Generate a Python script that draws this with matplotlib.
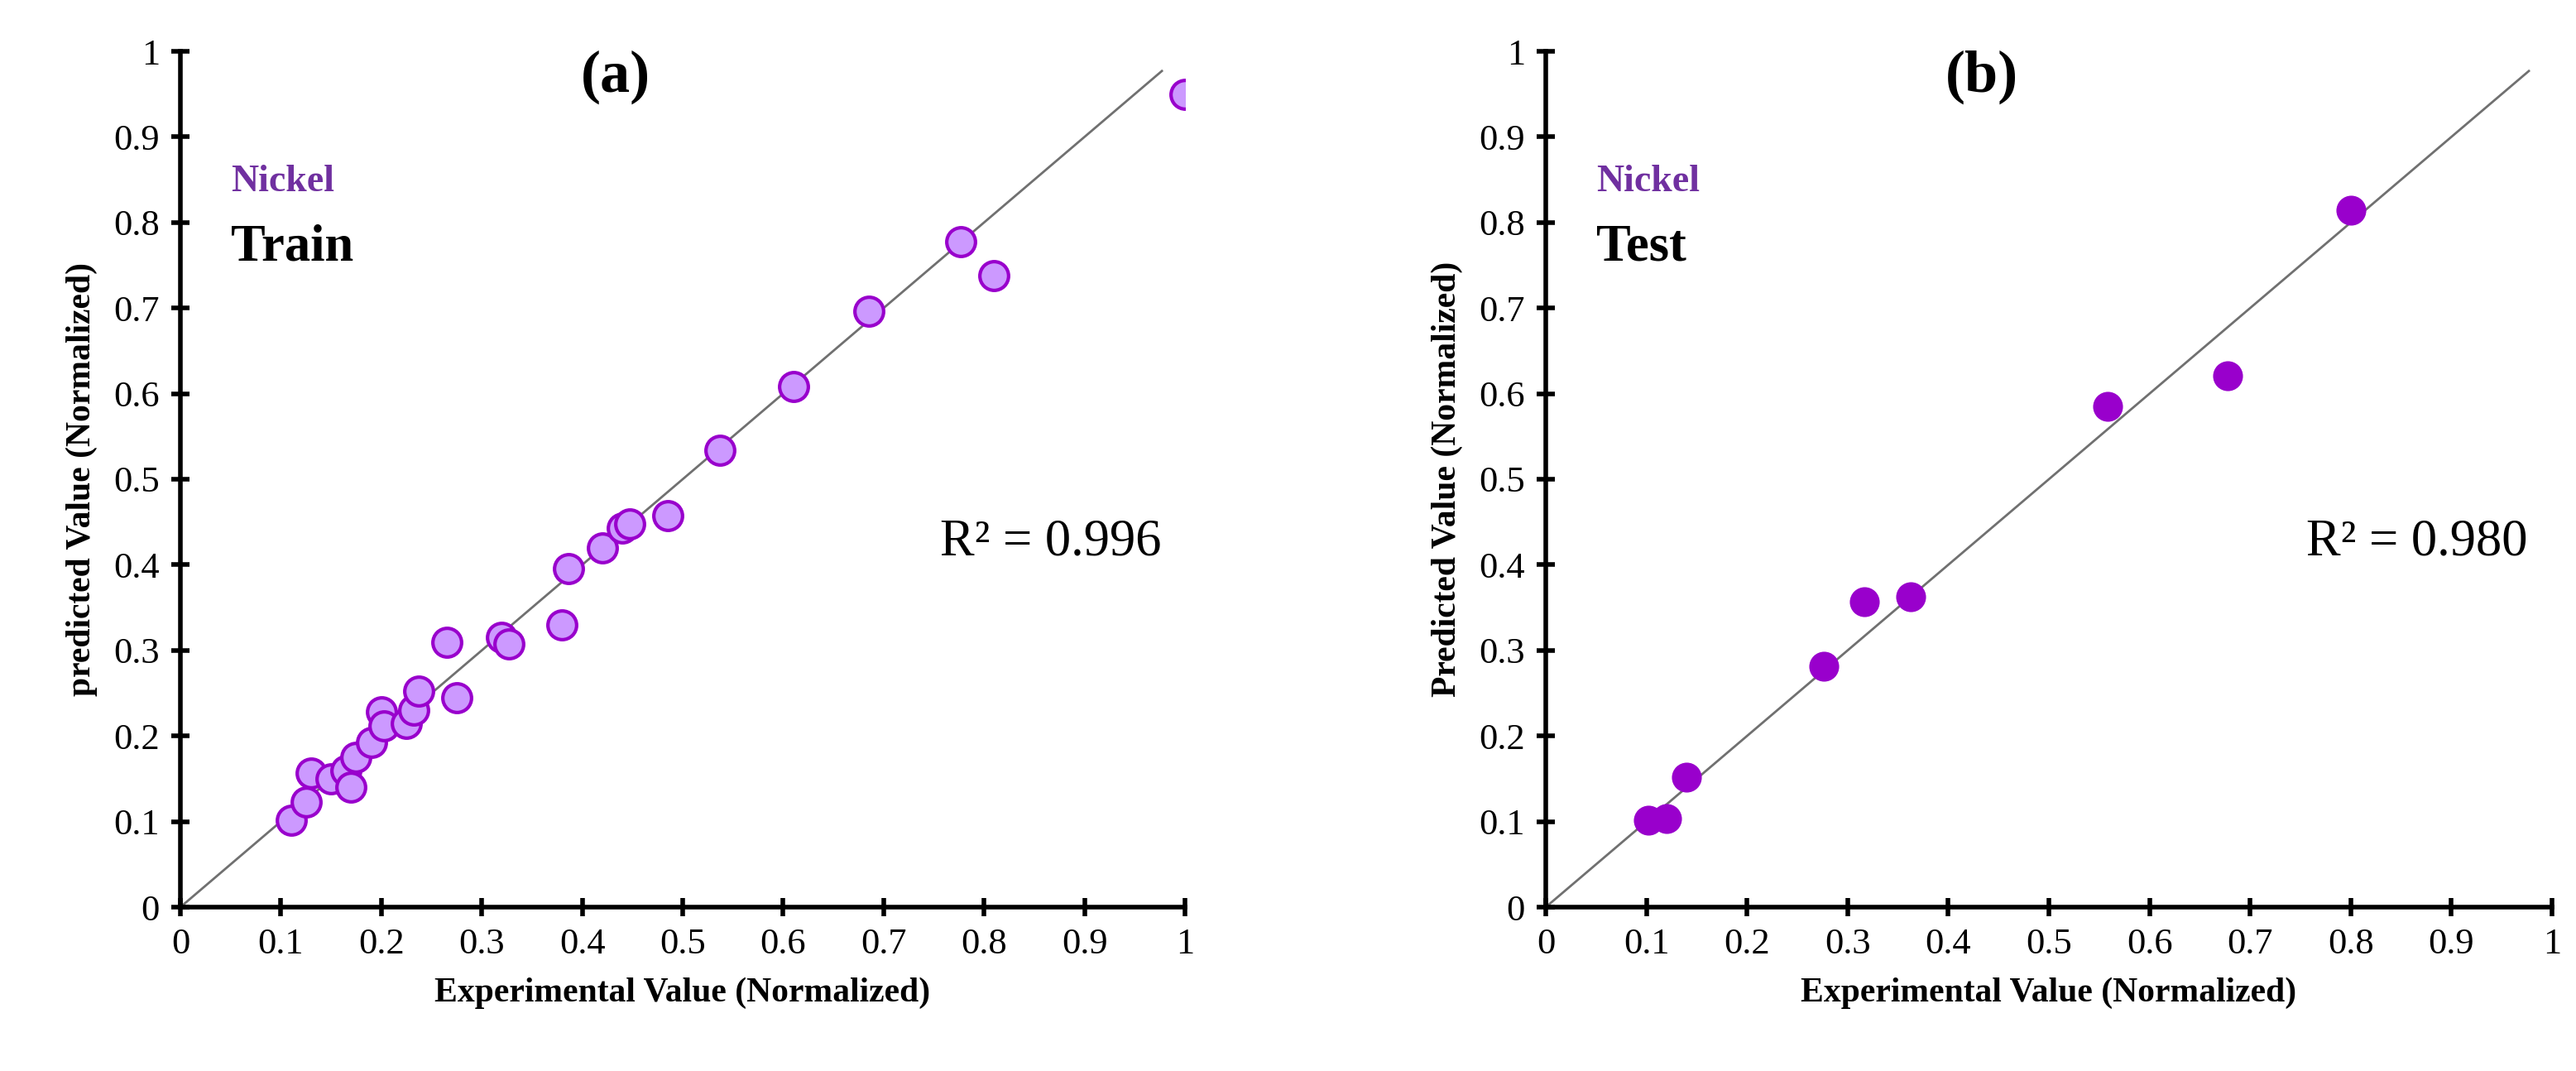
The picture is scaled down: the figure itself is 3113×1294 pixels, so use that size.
import matplotlib
matplotlib.use("Agg")
import matplotlib.pyplot as plt

train_x = [0.11, 0.125, 0.13, 0.15, 0.165, 0.17, 0.175, 0.19, 0.20, 0.203, 0.225, 0.232, 0.237,
           0.265, 0.275, 0.32, 0.327, 0.38, 0.386, 0.42, 0.44, 0.447, 0.485, 0.537, 0.61,
           0.685, 0.777, 0.81, 1.0]
train_y = [0.102, 0.123, 0.157, 0.15, 0.16, 0.14, 0.175, 0.192, 0.228, 0.212, 0.215, 0.23, 0.252,
           0.309, 0.245, 0.315, 0.308, 0.33, 0.396, 0.42, 0.443, 0.448, 0.457, 0.534, 0.608,
           0.696, 0.778, 0.738, 0.95]
test_x = [0.102, 0.12, 0.14, 0.276, 0.317, 0.363, 0.558, 0.678, 0.8]
test_y = [0.102, 0.103, 0.152, 0.281, 0.357, 0.363, 0.585, 0.621, 0.814]
ticks = [0, 0.1, 0.2, 0.3, 0.4, 0.5, 0.6, 0.7, 0.8, 0.9, 1]
tick_labels = ["0", "0.1", "0.2", "0.3", "0.4", "0.5", "0.6", "0.7", "0.8", "0.9", "1"]

plt.rcParams["font.family"] = ["Liberation Serif", "DejaVu Serif"]
W, H = 3113, 1294
fig = plt.figure(figsize=(W / 100, H / 100), dpi=100)

panels = [
    dict(rect=[218 / W, 1 - 1096 / H, 1214 / W, 1034 / H], x=train_x, y=train_y,
         tag="(a)", name="Train", r2="R² = 0.996", ylabel="predicted Value (Normalized)",
         face="#cc99ff", edge="#9900cc", ms=25),
    dict(rect=[1868 / W, 1 - 1096 / H, 1216 / W, 1034 / H], x=test_x, y=test_y,
         tag="(b)", name="Test", r2="R² = 0.980", ylabel="Predicted Value (Normalized)",
         face="#9900cc", edge="#9900cc", ms=23),
]

for p in panels:
    ax = fig.add_axes(p["rect"])
    ax.plot([0, 0.977], [0, 0.977], color="#707070", lw=2, zorder=1)
    ax.plot(p["x"], p["y"], "o", ms=p["ms"], mfc=p["face"], mec=p["edge"], mew=3, zorder=2)
    ax.set_xlim(0, 1)
    ax.set_ylim(0, 1)
    ax.spines["top"].set_visible(False)
    ax.spines["right"].set_visible(False)
    ax.spines["left"].set_linewidth(4)
    ax.spines["bottom"].set_linewidth(4)
    ax.set_xticks(ticks, tick_labels)
    ax.set_yticks(ticks, tick_labels)
    ax.tick_params(direction="inout", length=16, width=4, labelsize=32, pad=10)
    ax.set_xlabel("Experimental Value (Normalized)", fontsize=30, fontweight="bold", labelpad=14)
    ax.set_ylabel(p["ylabel"], fontsize=30, fontweight="bold", labelpad=14)
    ax.text(0.433, 0.97, p["tag"], fontsize=52, fontweight="bold", ha="center", va="center")
    ax.text(0.05, 0.847, "Nickel", fontsize=33, fontweight="bold", color="#7030a0", va="center")
    ax.text(0.05, 0.77, p["name"], fontsize=45, fontweight="bold", va="center")
    ax.text(0.756, 0.426, p["r2"], fontsize=45, va="center")

fig.savefig("out.png")
